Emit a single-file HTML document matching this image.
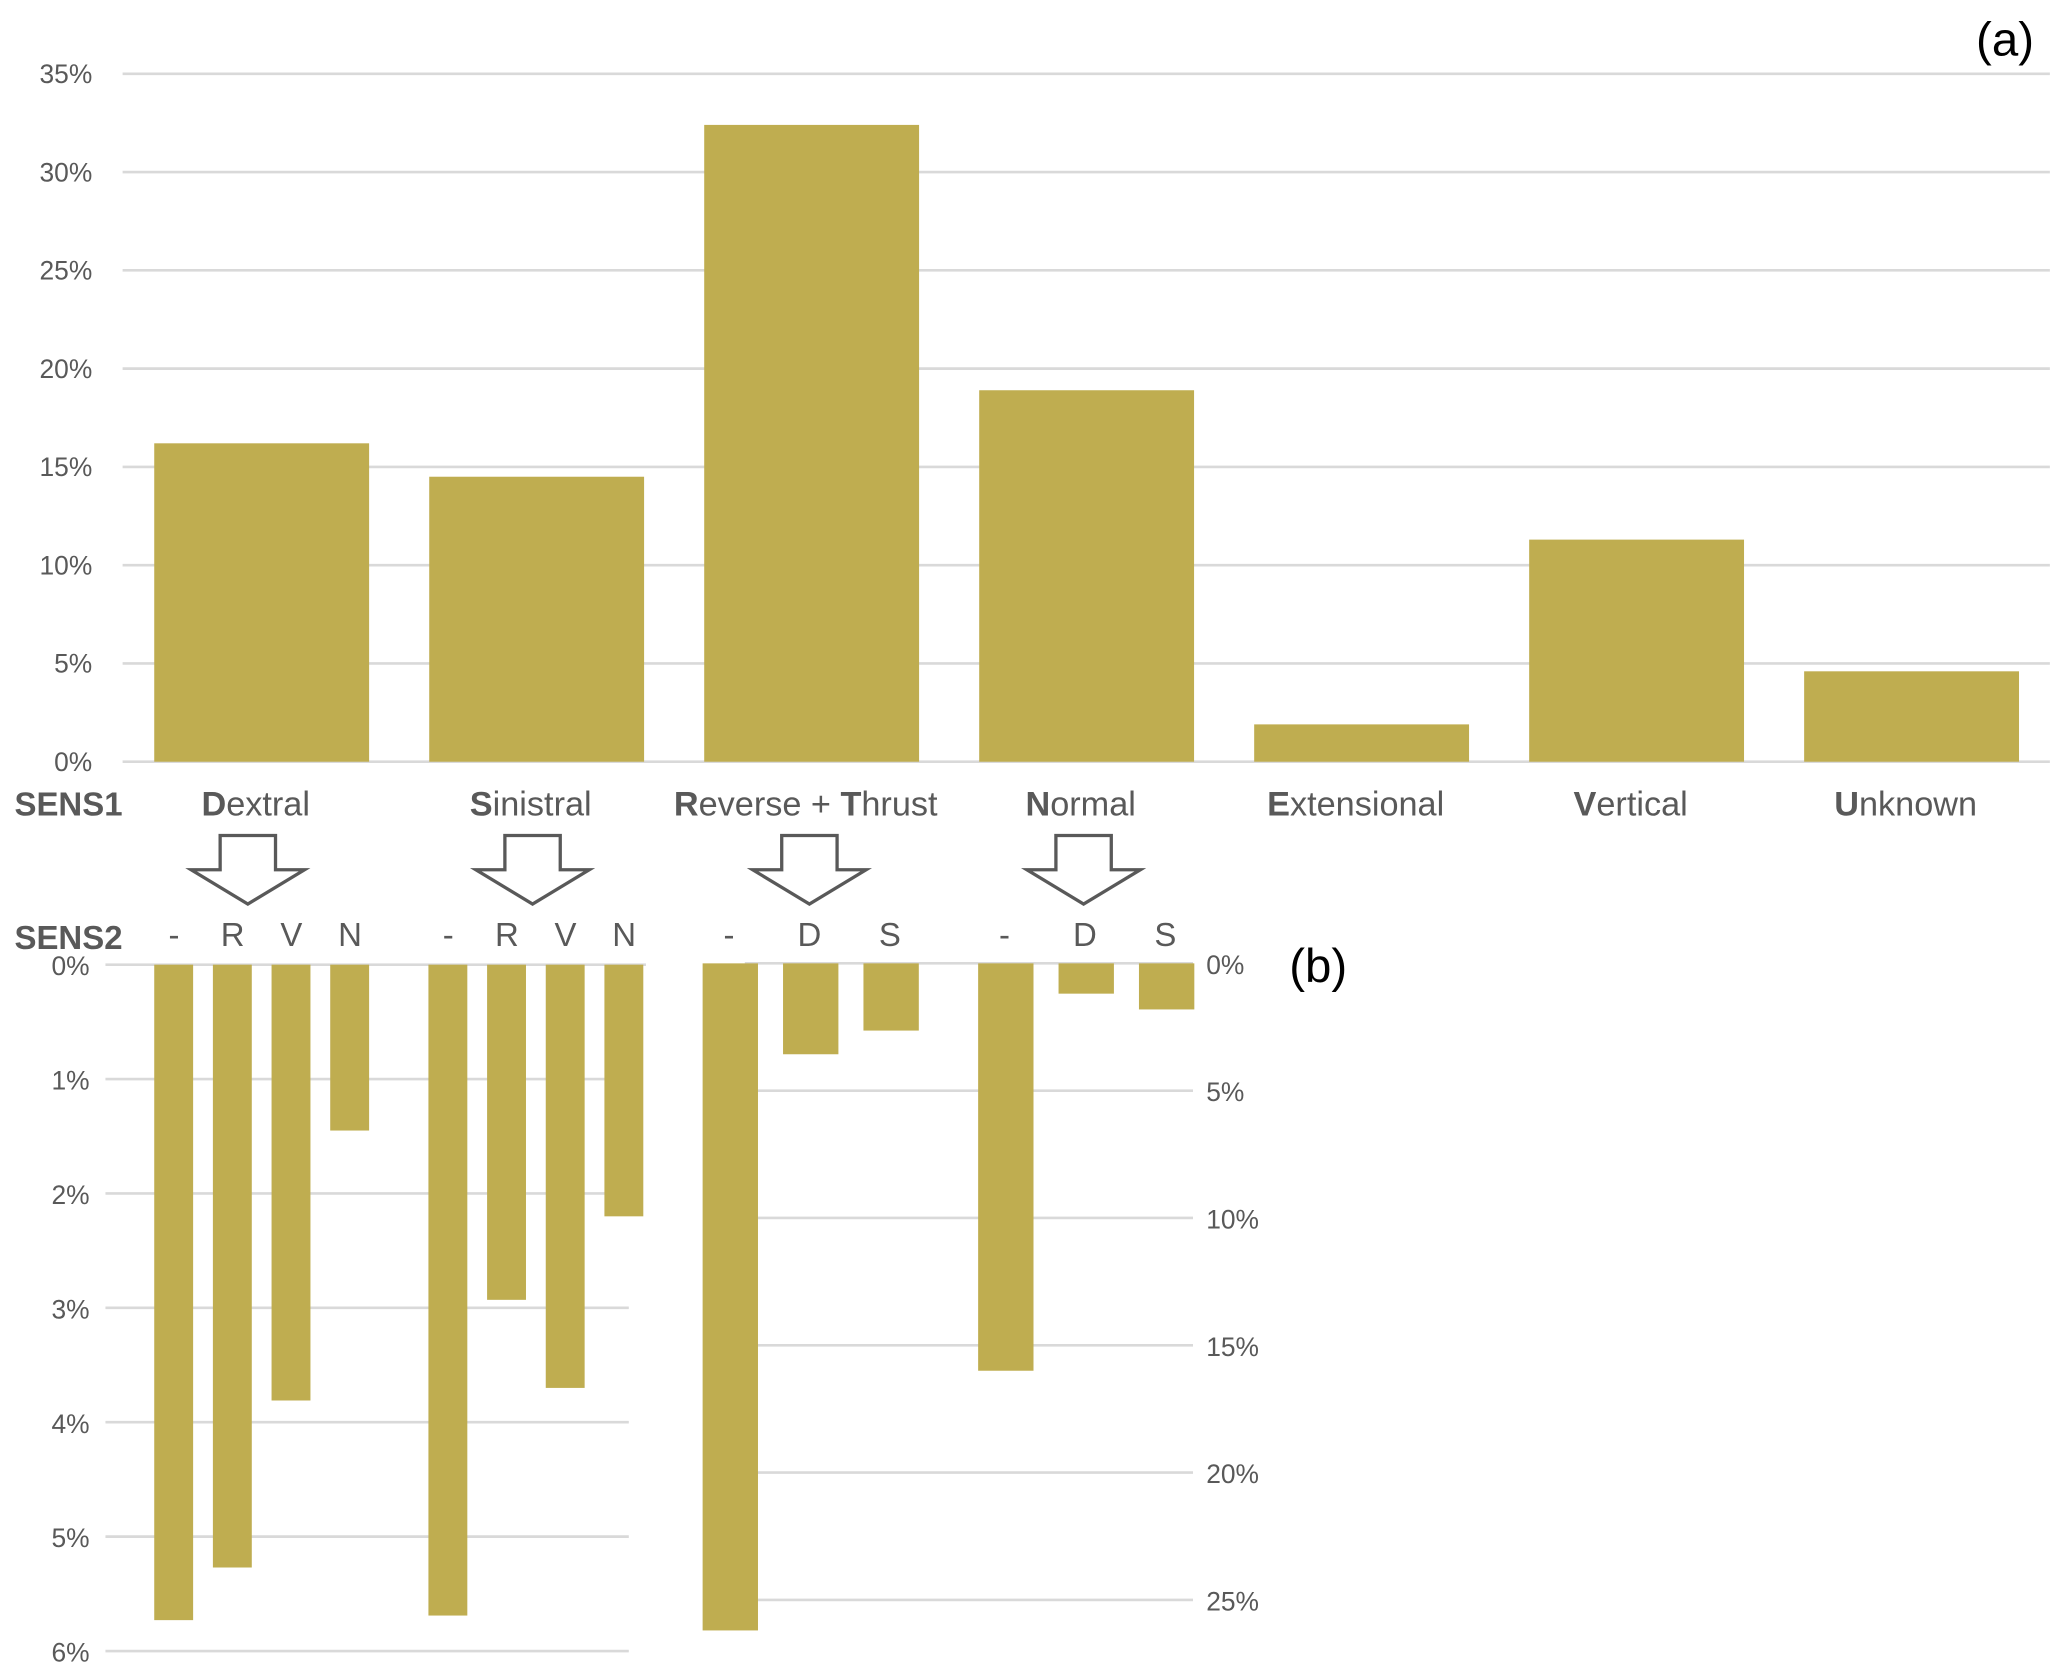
<!DOCTYPE html>
<html><head><meta charset="utf-8"><style>
html,body{margin:0;padding:0;background:#fff}
svg{display:block}
text{font-family:"Liberation Sans",sans-serif;fill:#595959}
</style></head><body>
<svg id="c" width="2067" height="1675" viewBox="0 0 1568 1271" preserveAspectRatio="none" xmlns="http://www.w3.org/2000/svg">
<g id="gtop"></g><g id="gbl"></g><g id="gbr"></g><g id="gmisc"></g>
</svg>
<script>
const sens1Cats=["Dextral","Sinistral","Reverse + Thrust","Normal","Extensional","Vertical","Unknown"];
const sens1Vals=[16.2,14.5,32.4,18.9,1.9,11.3,4.6];
const topTicks=[0,5,10,15,20,25,30,35];
const blCats=["-","R","V","N","-","R","V","N"];
const blVals=[5.73,5.27,3.81,1.45,5.69,2.93,3.70,2.20];
const blTicks=[0,1,2,3,4,5,6];
const brCats=["-","D","S","-","D","S"];
const brVals=[26.2,3.57,2.64,16.0,1.19,1.81];
const brTicks=[0,5,10,15,20,25];
const NS="http://www.w3.org/2000/svg";
const COL="#BFAD50";
function mk(p,t,a,txt){const e=document.createElementNS(NS,t);for(const k in a)e.setAttribute(k,a[k]);if(txt!==undefined)e.textContent=txt;p.appendChild(e);return e;}
const gTop=document.getElementById('gtop'),gBL=document.getElementById('gbl'),gBR=document.getElementById('gbr'),gMisc=document.getElementById('gmisc');
const yT=v=>578-v*(522/35);
topTicks.forEach(t=>{
 const l=mk(gTop,'line',{x1:93,x2:1555,y1:yT(t),y2:yT(t),stroke:'#d9d9d9','stroke-width':2});
 
 
 const tx=mk(gTop,'text',{x:70,y:yT(t)+7,'text-anchor':'end','font-size':20},t+'%');
 
 
});
sens1Vals.forEach((v,i)=>{
 const x=117+i*208.6;
 const r=mk(gTop,'rect',{x:x,y:yT(v),width:163,height:yT(0)-yT(v),fill:COL});
 
 
 const tx=mk(gTop,'text',{x:x+77,y:619,'text-anchor':'middle','font-size':26});
 
 
 const name=sens1Cats[i];
 if(name==="Reverse + Thrust"){
  mk(tx,'tspan',{'font-weight':'bold'},'R');mk(tx,'tspan',{},'everse + ');mk(tx,'tspan',{'font-weight':'bold'},'T');mk(tx,'tspan',{},'hrust');
 } else {mk(tx,'tspan',{'font-weight':'bold'},name[0]);mk(tx,'tspan',{},name.slice(1));}
});
const yL=v=>732+v*86.8;
blTicks.forEach(t=>{
 if(t>0){const l=mk(gBL,'line',{x1:80,x2:477,y1:yL(t),y2:yL(t),stroke:'#d9d9d9','stroke-width':2});
 
 }
 const tx=mk(gBL,'text',{x:68,y:yL(t)+8,'text-anchor':'end','font-size':20},t+'%');
 
 
});
const bx=mk(gBL,'line',{x1:80,x2:490,y1:732,y2:732,stroke:'#d9d9d9','stroke-width':2});


blVals.forEach((v,i)=>{
 const x=117+(i%4)*44.5+Math.floor(i/4)*208;
 const r=mk(gBL,'rect',{x:x,y:732,width:29.5,height:yL(v)-732,fill:COL});
 
 
 const tx=mk(gBL,'text',{x:x+15,y:718,'text-anchor':'middle','font-size':25},blCats[i]);
 
 
});
const yR=v=>731+v*(483/25);
brTicks.forEach(t=>{
 const l=mk(gBR,'line',{x1:565,x2:905,y1:yR(t),y2:yR(t),stroke:'#d9d9d9','stroke-width':2});
 
 
 const tx=mk(gBR,'text',{x:915,y:yR(t)+8,'font-size':20},t+'%');
 
 
});
brVals.forEach((v,i)=>{
 const x=533+(i%3)*61+Math.floor(i/3)*209;
 const r=mk(gBR,'rect',{x:x,y:731,width:42,height:yR(v)-731,fill:COL});
 
 
 const tx=mk(gBR,'text',{x:x+20,y:718,'text-anchor':'middle','font-size':25},brCats[i]);
 
 
});
let t1=mk(gMisc,'text',{x:11,y:619,'font-size':25,'font-weight':'bold'},'SENS1');


let t2=mk(gMisc,'text',{x:11,y:720,'font-size':25,'font-weight':'bold'},'SENS2');


let pa=mk(gMisc,'text',{x:1543,y:42,'font-size':36,'text-anchor':'end',style:'fill:#000'},'(a)');


let pb=mk(gMisc,'text',{x:978,y:745,'font-size':36,style:'fill:#000'},'(b)');


[188,404,614,822].forEach(cx=>{
 const p=mk(gMisc,'polygon',{points:`${cx-21},634 ${cx+21},634 ${cx+21},660 ${cx+43},660 ${cx},686 ${cx-43},660 ${cx-21},660`,fill:'#fff',stroke:'#595959','stroke-width':2.5});
 
 
});
</script>
</body></html>
